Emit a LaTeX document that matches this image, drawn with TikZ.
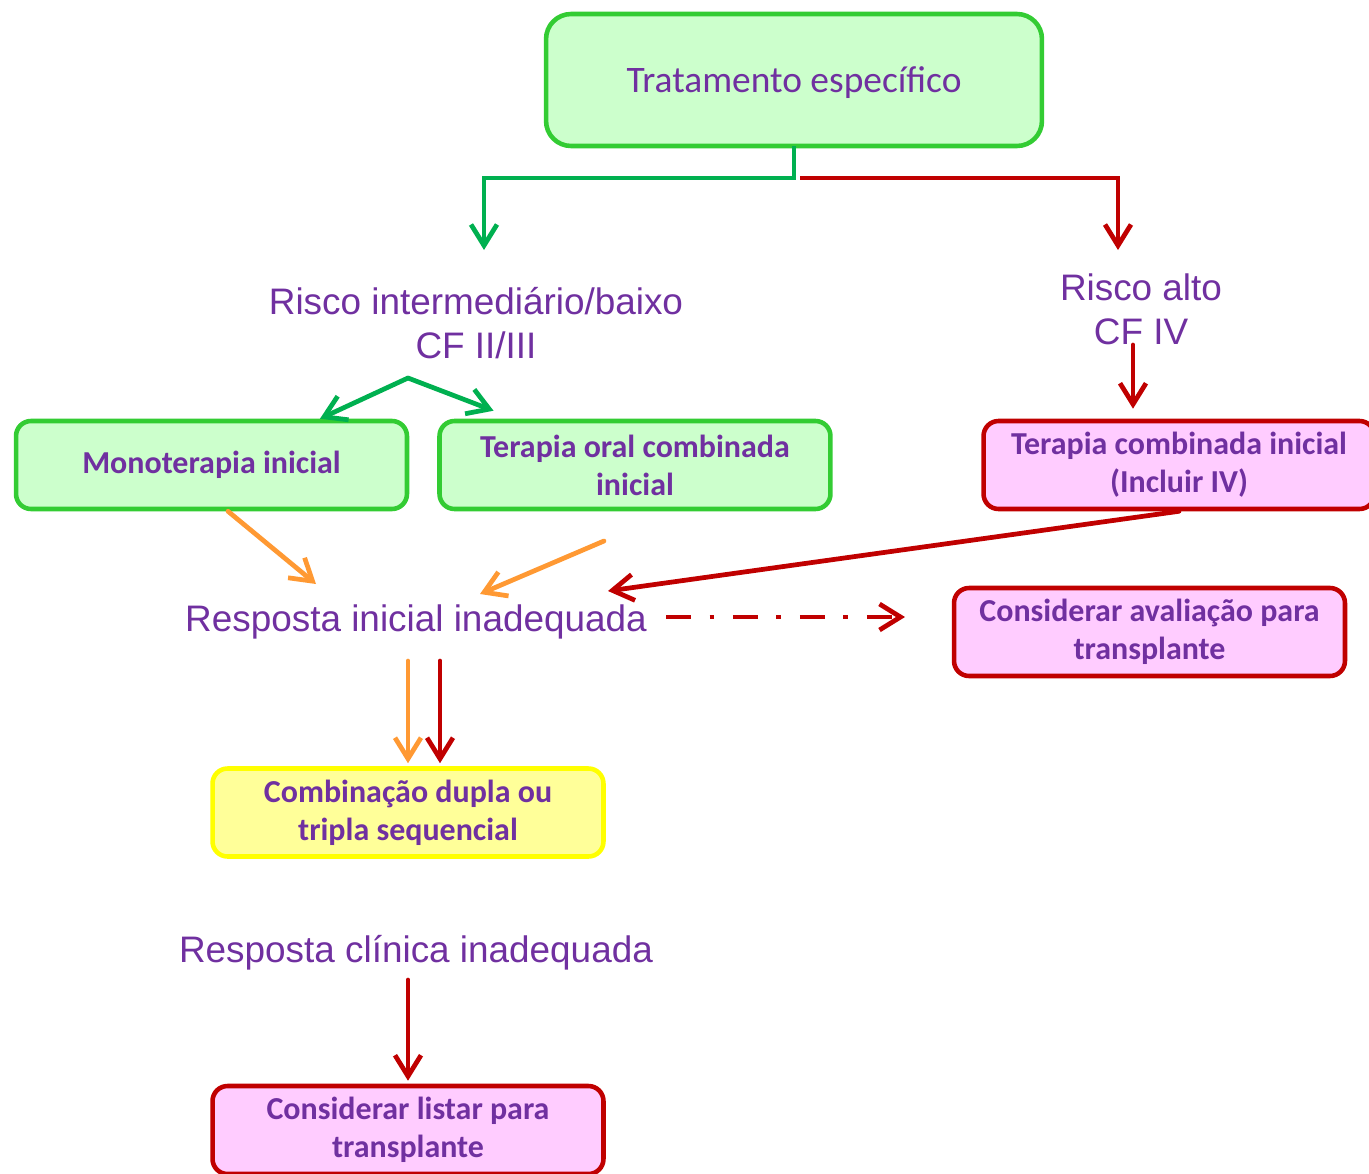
\documentclass[tikz,border=0pt]{standalone}
\usepackage{fontspec}
\setmainfont{Carlito}
\newfontfamily\arialfont{Liberation Sans}
\usetikzlibrary{arrows.meta,positioning}
\definecolor{txt}{HTML}{7030A0}
\definecolor{okline}{HTML}{33CC33}
\definecolor{okfill}{HTML}{CCFFCC}
\definecolor{hiline}{HTML}{C00000}
\definecolor{hifill}{HTML}{FFCCFF}
\definecolor{seqline}{HTML}{FFFF00}
\definecolor{seqfill}{HTML}{FFFF99}
\definecolor{gline}{HTML}{00B050}
\definecolor{oline}{HTML}{FF9933}
\tikzset{box/.style={draw=okline,fill=okfill,line width=2.6pt,rounded corners=3mm,minimum width=7.82cm,minimum height=1.76cm,align=center,text=txt,font=\fontsize{18.2}{21.6}\selectfont\bfseries},okbox/.style={box},hibox/.style={box,draw=hiline,fill=hifill},seqbox/.style={box,draw=seqline,fill=seqfill},lbl/.style={align=center,text=txt,inner sep=0pt,font=\arialfont\fontsize{21}{25}\selectfont},flow/.style={line width=2.7pt,line cap=round,-{Straight Barb[length=4.2mm,width=5.2mm]}},gflow/.style={flow,draw=gline},oflow/.style={flow,draw=oline},rflow/.style={flow,draw=hiline}}

\begin{document}
\begin{tikzpicture}[x=0.02cm,y=-0.02cm]
\useasboundingbox (0,0) rectangle (1369,1173);
\node[box,minimum width=9.92cm,minimum height=2.64cm,rounded corners=5mm,text depth=0pt,font=\fontsize{21.3}{25}\selectfont] (start) at (794,80) {Tratamento específico};
\node[lbl] (low) at (476,323) {Risco intermediário/baixo\\CF II/III};\node[lbl] (high) at (1141,309) {Risco alto\\CF IV};
\node[okbox] (mono) at (211.5,465) {Monoterapia inicial};\node[okbox,right=0.56cm of mono] (oral) {Terapia oral combinada\\inicial};\node[hibox] (comb) at (1179,465) {Terapia combinada inicial\\(Incluir IV)};
\node[lbl] (resp) at (416,622) {Resposta inicial inadequada};\node[hibox] (aval) at (1149.5,632) {Considerar avaliação para\\transplante};
\node[seqbox] (seq) at (408,812.5) {Combinação dupla ou\\tripla sequencial};
\node[lbl] (clin) at (416,953) {Resposta clínica inadequada};\node[hibox] (list) at (408,1130) {Considerar listar para\\transplante};
% free ends
\coordinate (split) at (794,178);\coordinate (lowtop) at (484,250);\coordinate (hightop) at (1118,250);\coordinate (fork) at (408,378);\coordinate (cfiv) at (1133,345);
\coordinate (respA) at (316,584);\coordinate (oralfree) at (604,541);\coordinate (respB) at (480,594);\coordinate (respC) at (608,591);
\coordinate (dashA) at (666,617);\coordinate (dashB) at (905,617);\coordinate (downA) at (408,661);\coordinate (downB) at (440,661);\coordinate (clinfree) at (408,980);
\draw[gflow,line cap=butt] ([yshift=0.04cm]start.south) -- (split) -| (lowtop);\draw[rflow,line cap=butt] ([xshift=0.12cm]split) -| (hightop);
\draw[gflow] (fork) -- ([xshift=2.17cm]mono.north);\draw[gflow] (fork) -- ([xshift=-2.83cm,yshift=0.16cm]oral.north);
\draw[rflow] (cfiv) -- ([yshift=0.2cm]cfiv |- comb.north);
\draw[oflow] ([xshift=0.33cm]mono.south) -- (respA);\draw[oflow] (oralfree) -- (respB);\draw[rflow] (comb.south) -- (respC);
\draw[rflow,line cap=butt,dash pattern=on 0.5cm off 0.37cm on 0.1cm off 0.37cm] (dashA) -- (dashB);
\draw[oflow] (downA) -- ([yshift=0.06cm]downA |- seq.north);\draw[rflow] (downB) -- ([yshift=0.06cm]downB |- seq.north);
\draw[rflow] (clinfree) -- ([yshift=0.06cm]list.north);
\end{tikzpicture}
\end{document}
